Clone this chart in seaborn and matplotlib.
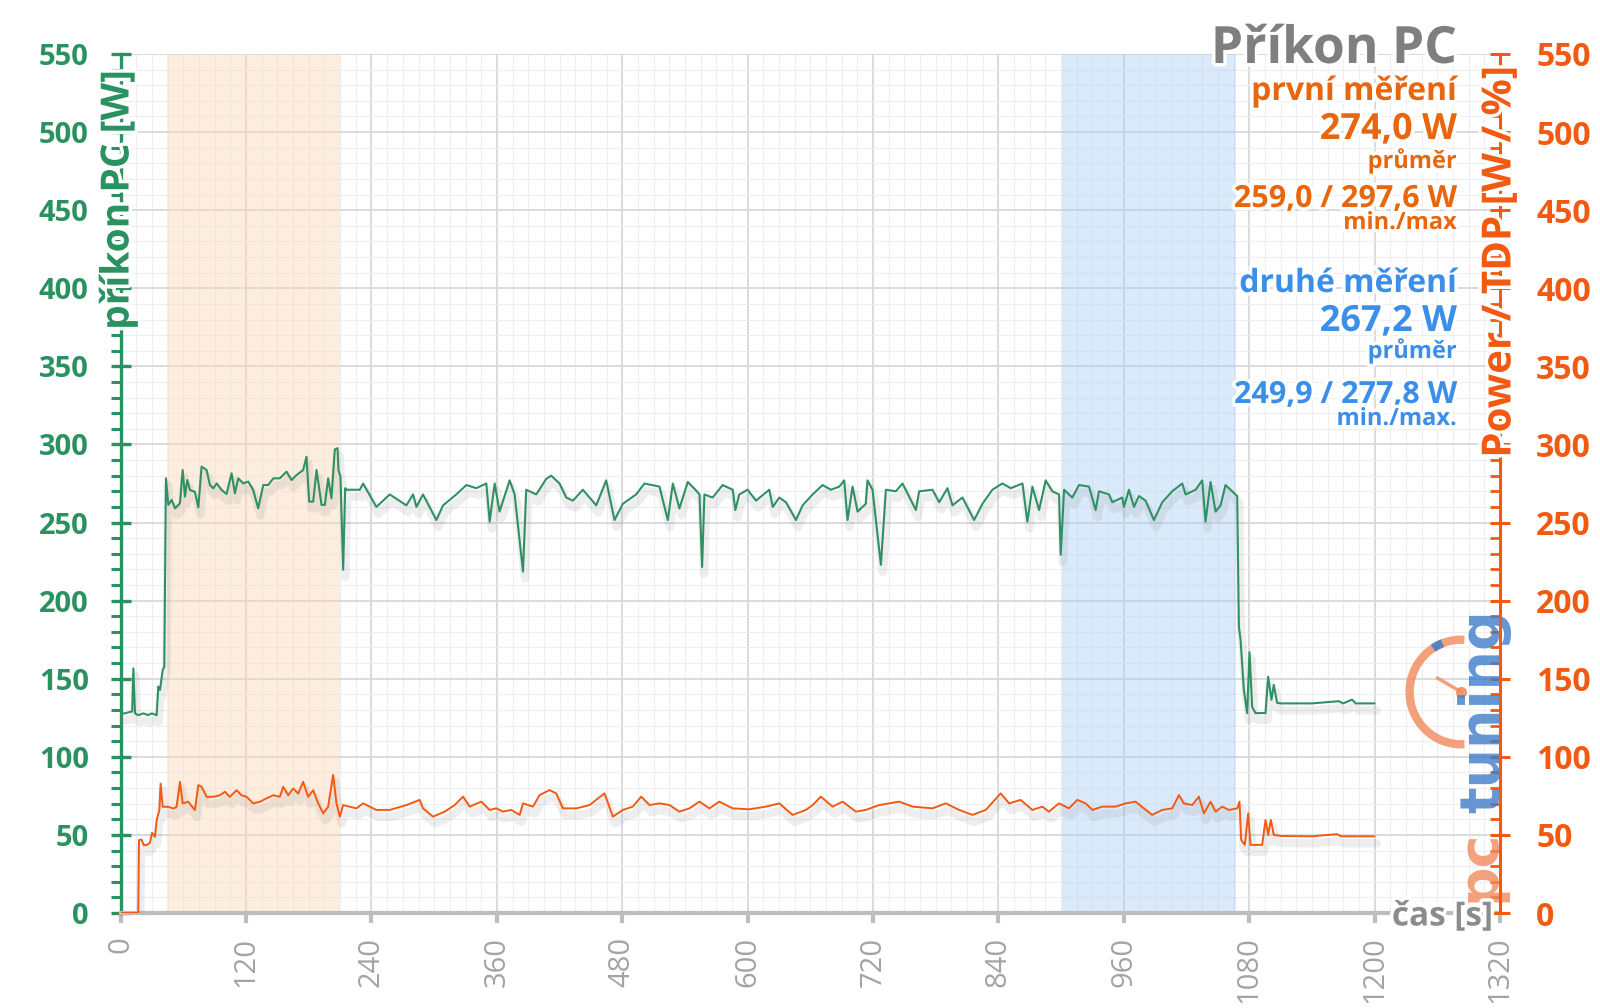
import matplotlib
matplotlib.use("Agg")
import matplotlib.pyplot as plt
import matplotlib.patheffects as pe
from matplotlib.patches import Arc
import pandas as pd
import seaborn as sns

# ---------------- data ----------------
green_t = [0, 4, 9, 11, 12.1, 13.7, 16.9, 21.7, 26.5, 29.6, 34.4, 36, 37.6, 40.2, 41.7, 43.3, 45.6, 48.8, 52,
           56.7, 59.3, 61.5, 63.7, 66.3, 71, 74.3, 77.4, 82.2, 85.4, 88.6, 91.8, 96.6, 101.3, 106.1, 109.3, 112.5,
           117.3, 122.1, 126.8, 131.6, 136.4, 141.2, 146, 152.3, 158.7, 163.5, 168.3, 174.6, 177.8, 180.4, 184.2,
           187.4, 192.2, 195.4, 198.5, 201.7, 204.9, 207.5, 208.4, 210.3, 212.9, 214.8, 216, 228.8, 232, 244.7,
           257.5, 273.4, 279.8, 283, 289.3, 302.1, 308.5, 321.2, 330.8, 340.3, 349.9, 353.1, 357.9, 362.6, 372.2,
           377, 385, 388.1, 397.7, 407.3, 412, 420, 426.4, 432.8, 442.3, 455.1, 464.6, 472.6, 480.6, 493.3, 501.3,
           515.6, 523.6, 528.4, 534.7, 542.7, 550, 553.9, 556.4, 558.6, 566.5, 576.1, 585.7, 588.2, 592, 600, 608,
           620.7, 624, 630.3, 636.7, 646.2, 652.6, 662.2, 671.7, 679.7, 687.7, 692.4, 695.6, 700.4, 705.2, 713.1,
           714.7, 719.5, 727.5, 732.3, 741.8, 748.2, 761, 764.1, 776.9, 783.3, 791.2, 796, 805.6, 816.7, 824.7,
           834.2, 843.8, 851.8, 863, 867.7, 872.5, 878.9, 885.2, 891.6, 898, 899.6, 902.8, 910.7, 917.1, 926.7,
           933, 936.2, 945.8, 949, 958.5, 960.1, 964.9, 969.7, 974.5, 980.8, 988.8, 996.8, 1006.3, 1015.9, 1019.1,
           1028.7, 1035, 1038.2, 1043, 1047.8, 1052.6, 1057.3, 1063.7, 1068.5, 1070.1, 1071.7, 1074.9, 1078,
           1080.3, 1082.8, 1086, 1095.6, 1098.1, 1101.3, 1103.5, 1106.7, 1110, 1140, 1165.7, 1170, 1178.4, 1182,
           1200]
green_w = [127.8, 127.8, 128.8, 129, 156.6, 127.8, 126.7, 127.8, 126.7, 127.8, 126.7, 145, 142.8, 155.6, 157.7,
           278.3, 261.3, 264.5, 259.1, 262.3, 283.6, 266.6, 277.2, 270.8, 269.7, 259.7, 285.8, 283.6, 274, 271.9,
           275.1, 270.8, 268.3, 281.5, 268.7, 278.3, 275.1, 276.2, 270.8, 259.1, 274, 274, 278.3, 278.3, 282.6,
           277.2, 280.4, 283.6, 292.1, 263.4, 263.4, 283.6, 261.3, 261.3, 278.3, 265.5, 296.8, 297.6, 283.6, 279.4,
           219.8, 272, 271, 271, 275, 260, 268, 261, 268, 260, 268, 251.6, 261, 268, 274, 272, 275, 250.6, 275,
           257, 277, 268, 218.6, 271, 268, 278, 280, 275, 266, 264, 271, 261, 277, 251.6, 262, 268, 275, 273,
           251.6, 275, 259, 276, 271, 268, 221.5, 268, 266, 274, 271, 258, 268, 271, 264, 271, 260, 266, 263,
           251.6, 261, 268, 274, 271, 273, 277, 251.6, 273, 257, 262, 277, 271, 222.9, 271, 270, 275, 258, 270,
           271, 263, 272, 261, 266, 251.6, 262, 271, 275, 272, 275, 250.6, 273, 258, 277, 270, 268, 229.3, 271,
           266, 274, 273, 258, 270, 268, 263, 266, 260, 271, 260, 267, 264, 251.6, 263, 270, 275, 268, 271, 277,
           250.6, 276, 257, 261, 274, 270, 267, 183.5, 175, 142.8, 128, 167, 132, 128, 128, 151.3, 136.5, 146,
           134.6, 134.2, 134.2, 135.6, 134.2, 136.6, 134.2, 134.2]

orange_t = [0, 16.8, 17.5, 20, 22, 24.8, 28, 30, 32.8, 34.4, 37, 38.2, 40.2, 45.6, 50.4, 53.5, 56.7, 59.3, 64.7,
            71, 74.3, 77.4, 82.2, 88.6, 95, 99.7, 104.5, 110.9, 115.7, 120.5, 126.8, 133.2, 139.6, 146, 152.3,
            155.5, 160.3, 165.1, 169.9, 174.6, 179.4, 184.2, 189, 193.8, 198.5, 203.3, 206.5, 209.7, 212.8, 225.6,
            232, 244.7, 257.5, 273.4, 286.1, 289.3, 298.9, 310.1, 319.6, 327.6, 334, 345.1, 353.1, 359.5, 365.8,
            373.8, 381.8, 385, 394.5, 400.9, 410.4, 416.8, 423.2, 436, 448.7, 463, 471, 480.6, 490.1, 498.1, 506.1,
            515.6, 525.2, 534.7, 544.3, 553.9, 563.4, 572.9, 585.7, 601.6, 617.5, 630.3, 643, 655.8, 662.2, 670.1,
            681.3, 690.9, 703.6, 713.1, 725.9, 745, 757.8, 776.9, 789.6, 802.4, 815.1, 827.9, 842.2, 850.2, 861.3,
            872.5, 882, 888.4, 898, 907.5, 915.5, 923.5, 929.9, 939.4, 952.2, 961.7, 971.3, 979.2, 987.2, 996.8,
            1006.3, 1012.7, 1017.5, 1025.5, 1031.8, 1036.6, 1043, 1047.8, 1054.1, 1060.5, 1068.5, 1070.7, 1072.3,
            1075.8, 1079, 1081.2, 1092.4, 1095.6, 1098.1, 1100.7, 1103.5, 1111.5, 1140, 1164.1, 1168, 1200]
orange_w = [0, 0, 46.7, 47, 43.5, 43.5, 45, 51.3, 48.8, 59.5, 65.9, 82.9, 68, 68, 66.9, 68, 84, 70.2, 71.2, 65.9,
            81.9, 80.8, 74.4, 74.4, 75.4, 77.6, 74.4, 78.6, 75.4, 74.4, 70.2, 71.2, 73.4, 75.4, 74.4, 80.8, 75.4,
            79.7, 76.5, 84, 74.4, 78.6, 70.2, 63.8, 68, 88.4, 70.2, 61.7, 69.1, 67, 70.2, 66, 66, 69.1, 72.4, 67,
            61.7, 64.9, 69.1, 74.5, 68.1, 71.3, 66, 67, 64.9, 66, 62.8, 70.2, 68.1, 75.5, 78.7, 76.6, 67, 67, 69.1,
            76.6, 61.7, 66, 68.1, 74.5, 69.1, 70.2, 69.1, 64.9, 67, 71.3, 67, 71.3, 67, 66.4, 68.1, 70.2, 62.8, 66,
            69.1, 74.5, 68.1, 71.3, 64.9, 66, 69.1, 71.3, 68.1, 67, 70.2, 66, 62.8, 66, 76.6, 70.2, 72.4, 66, 68.1,
            64.9, 70.2, 67, 72.4, 70.2, 66, 68.1, 68.1, 70.2, 71.3, 67, 62.8, 66, 67, 75.5, 70.2, 69.1, 74.5, 63.8,
            71.3, 64.9, 68.1, 66, 67, 71.3, 46.8, 43.6, 63.8, 43.6, 43.6, 59.6, 50, 59.6, 50, 49.3, 49.1, 50.5,
            49.1, 49.1]

x_ticks = [0, 120, 240, 360, 480, 600, 720, 840, 960, 1080, 1200, 1320]
x_ticklabels = ["0", "120", "240", "360", "480", "600", "720", "840", "960", "1080", "1200", "1320"]
y_ticks = [0, 50, 100, 150, 200, 250, 300, 350, 400, 450, 500, 550]
y_ticklabels = ["0", "50", "100", "150", "200", "250", "300", "350", "400", "450", "500", "550"]

span_first = (44, 209.6)
span_second = (901, 1067)

title = "Příkon PC"
first_lines = ["první měření", "274,0 W", "průměr", "259,0 / 297,6 W", "min./max"]
second_lines = ["druhé měření", "267,2 W", "průměr", "249,9 / 277,8 W", "min./max."]

# ---------------- styling ----------------
GREEN = "#2a9160"
GREEN_LINE = "#2f9163"
ORANGE = "#f25a12"
ORANGE_TXT = "#e8660e"
BLUE = "#3b8fe8"
GRAY_TXT = "#7f7f7f"

sns.set_theme(style="white")
plt.rcParams['font.family'] = ['Open Sans', 'DejaVu Sans']

fig = plt.figure(figsize=(16, 10.08), dpi=100)
W, H = 1600, 1008
ax = fig.add_axes([120.7 / W, 1 - 913 / H, (1500 - 120.7) / W, (913 - 54) / H])
ax2 = ax.twinx()

glow = [pe.withStroke(linewidth=5, foreground="white")]

# grid
ax.set_axisbelow(True)
ax.set_xlim(0, 1320)
ax.set_ylim(0, 550)
ax2.set_ylim(0, 550)
ax.set_xticks(x_ticks)
ax.set_xticks(range(0, 1321, 15), minor=True)
ax.set_yticks(y_ticks)
ax.set_yticks(range(0, 551, 10), minor=True)
ax.grid(which="major", color="#d9d9df", linewidth=1.4)
ax.grid(which="minor", color="#eeeef2", linewidth=0.8)

# highlighted spans
ax.axvspan(*span_first, color="#fbd9b8", alpha=0.45, lw=0, zorder=0.6)
ax.axvspan(*span_second, color="#a9cdf5", alpha=0.42, lw=0, zorder=0.6)

# data lines
df_g = pd.DataFrame({"t": green_t, "w": green_w})
df_o = pd.DataFrame({"t": orange_t, "w": orange_w})
sns.lineplot(data=df_g, x="t", y="w", ax=ax, color=GREEN_LINE, linewidth=1.5, estimator=None, zorder=3)
sns.lineplot(data=df_o, x="t", y="w", ax=ax2, color=ORANGE, linewidth=1.4, estimator=None, zorder=3)
shadow = [pe.SimpleLineShadow(offset=(1.5, -5), shadow_color="#888888", alpha=0.14, linewidth=6), pe.Normal()]
ax.lines[-1].set_path_effects(shadow)
ax2.lines[-1].set_path_effects(shadow)
ax.set_xlabel("")
ax.set_ylabel("")
ax2.set_ylabel("")

# spines
for s in ["top", "right"]:
    ax.spines[s].set_visible(False)
for s in ["top", "left", "bottom"]:
    ax2.spines[s].set_visible(False)
ax.spines["left"].set_color(GREEN)
ax.spines["left"].set_linewidth(2.4)
ax.spines["bottom"].set_color("#bdbdbd")
ax.spines["bottom"].set_linewidth(3)
ax2.spines["right"].set_color(ORANGE)
ax2.spines["right"].set_linewidth(2.2)

# ticks
ax.set_yticklabels(y_ticklabels)
ax.set_xticklabels(x_ticklabels)
ax.tick_params(axis="y", which="major", direction="inout", length=14, width=2.4, color=GREEN,
               labelcolor=GREEN, labelsize=21, pad=16, left=True)
ax.tick_params(axis="y", which="minor", direction="out", length=7, width=2.2, color=GREEN, left=True)
ax.tick_params(axis="x", which="major", direction="out", length=7, width=3, color="#bdbdbd",
               labelcolor="#a3a3a3", labelsize=21, labelrotation=90, pad=10, bottom=True)
ax.tick_params(axis="x", which="minor", length=0)
for lab in ax.get_yticklabels():
    lab.set_fontweight("bold")

ax2.set_yticks(y_ticks)
ax2.set_yticks(range(0, 551, 10), minor=True)
ax2.set_yticklabels(y_ticklabels)
ax2.tick_params(axis="y", which="major", direction="inout", length=14, width=2.2, color=ORANGE,
                labelcolor=ORANGE, labelsize=23, pad=19, right=True)
ax2.tick_params(axis="y", which="minor", direction="in", length=7, width=2, color=ORANGE, right=True)
for lab in ax2.get_yticklabels():
    lab.set_fontweight("bold")

# logo watermark (pctuning) behind right spine
ax2.add_patch(Arc((1283, 141.5), 99, 67, theta1=85, theta2=275, lw=6, color="#f08a5c", alpha=0.8,
                  zorder=1, clip_on=False))
ax2.add_patch(Arc((1283, 141.5), 99, 67, theta1=120, theta2=134, lw=6, color="#3d7cc9", alpha=0.85,
                  zorder=1.1, clip_on=False))
ax2.plot([1283, 1260], [141.5, 150.5], color="#f08a5c", lw=2.5, alpha=0.8, zorder=1, clip_on=False)
ax2.plot([1283], [141.5], "o", color="#f08a5c", ms=7, alpha=0.85, zorder=1, clip_on=False)
ax2.text(1305, 129, "tuning", rotation=90, ha="center", va="center", fontsize=40, fontweight="bold",
         color="#3d7cc9", alpha=0.8, zorder=1, clip_on=False, family=["DejaVu Sans"])
ax2.text(1300, 30, "pc", rotation=90, ha="center", va="center", fontsize=40, fontweight="bold",
         color="#f08a5c", alpha=0.8, zorder=1, clip_on=False, family=["DejaVu Sans"])


def fx(px):
    return px / W


def fy(py):
    return 1 - py / H


# axis labels
fig.text(fx(118), fy(200), "příkon PC [W]", rotation=90, ha="center", va="center", fontsize=28,
         fontweight="bold", color=GREEN, path_effects=glow)
fig.text(fx(1500), fy(262), "Power / TDP [W / %]", rotation=90, ha="center", va="center", fontsize=29,
         fontweight="bold", color=ORANGE, path_effects=glow)
fig.text(fx(1493), fy(917), "čas [s]", ha="right", va="center", fontsize=24, fontweight="bold",
         color="#8c8c8c", path_effects=glow)

# title and annotations
fig.text(fx(1457), fy(63), title, ha="right", va="baseline", fontsize=37, fontweight="bold",
         color=GRAY_TXT, path_effects=glow)
sizes = [23, 26, 17, 22, 17]
first_base = [100, 139, 168, 207, 229]
second_base = [292, 331, 358, 403, 425]
for txt, fs, yb in zip(first_lines, sizes, first_base):
    fig.text(fx(1457), fy(yb), txt, ha="right", va="baseline", fontsize=fs, fontweight="bold",
             color=ORANGE_TXT, path_effects=glow)
for txt, fs, yb in zip(second_lines, sizes, second_base):
    fig.text(fx(1457), fy(yb), txt, ha="right", va="baseline", fontsize=fs, fontweight="bold",
             color=BLUE, path_effects=glow)

fig.savefig("out.png", dpi=100, facecolor="white")
